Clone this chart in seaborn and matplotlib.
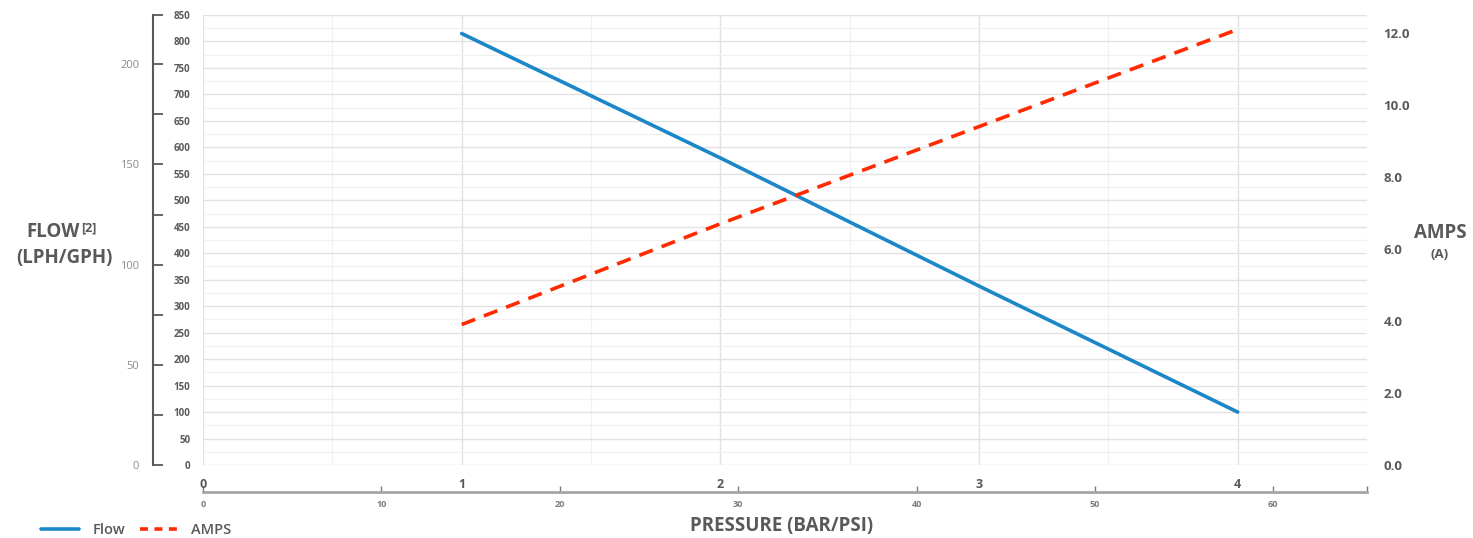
import numpy as np
import pandas as pd
import matplotlib
matplotlib.use("Agg")
import matplotlib.pyplot as plt
import matplotlib.ticker as mticker
from matplotlib.lines import Line2D
import seaborn as sns

# ── Data ───────────────────────────────────────────────────────────────────
pressure_bar = [1, 2, 3, 4]
flow_lph = [815, 580, 338, 100]
amps = [3.9, 6.7, 9.4, 12.1]

gph_ticks = [0, 50, 100, 150, 200]
psi_ticks = [0, 10, 20, 30, 40, 50, 60]

BAR_TO_PSI = 14.5
LPH_TO_GPH = 3.785

# ── Style ──────────────────────────────────────────────────────────────────
sns.set_theme(style="white")
plt.rcParams["font.family"] = ["Open Sans", "DejaVu Sans"]
TEXT = "#595959"
BLUE = "#1b87c9"
RED = "#ff2a00"

df = pd.DataFrame({"bar": pressure_bar, "flow": flow_lph, "amps": amps})

fig = plt.figure(figsize=(14.73, 5.38), dpi=100)
ax = fig.add_axes([203 / 1473, 1 - 465 / 538, 1164 / 1473, 450 / 538])

sns.lineplot(data=df, x="bar", y="flow", ax=ax, color=BLUE, linewidth=2.6,
             legend=False, solid_capstyle="round")
ax.set_xlim(0, 4.5)
ax.set_ylim(0, 850)
ax.set_xlabel("")
ax.set_ylabel("")
for s in ax.spines.values():
    s.set_visible(False)

# grid
ax.xaxis.set_major_locator(mticker.MultipleLocator(1))
ax.xaxis.set_minor_locator(mticker.MultipleLocator(0.5))
ax.yaxis.set_major_locator(mticker.MultipleLocator(50))
ax.yaxis.set_minor_locator(mticker.MultipleLocator(25))
ax.grid(which="major", color="#e2e2e2", linewidth=1.0)
ax.grid(which="minor", color="#f1f1f1", linewidth=0.9)
ax.set_axisbelow(True)
ax.tick_params(axis="both", which="both", length=0)
ax.tick_params(axis="y", pad=9, labelsize=7, labelcolor=TEXT)
ax.tick_params(axis="x", pad=9, labelsize=9, labelcolor=TEXT)
for lbl in ax.get_yticklabels() + ax.get_xticklabels():
    lbl.set_fontweight("bold")

# right AMPS axis
ax2 = ax.twinx()
sns.lineplot(data=df, x="bar", y="amps", ax=ax2, color=RED, linewidth=2.6,
             linestyle=(0, (4, 2.6)), legend=False)
ax2.set_ylim(0, 12.5)
ax2.set_ylabel("")
ax2.yaxis.set_major_locator(mticker.MultipleLocator(2))
ax2.yaxis.set_major_formatter(mticker.FormatStrFormatter("%.1f"))
ax2.tick_params(axis="y", length=0, pad=12, labelsize=9.5, labelcolor=TEXT)
for lbl in ax2.get_yticklabels():
    lbl.set_fontweight("bold")
for s in ax2.spines.values():
    s.set_visible(False)
ax2.grid(False)

# GPH secondary axis (left, offset)
gph = ax.secondary_yaxis(-50 / 1164, functions=(lambda v: v / LPH_TO_GPH,
                                                lambda v: v * LPH_TO_GPH))
gph.yaxis.set_major_locator(mticker.FixedLocator(gph_ticks))
gph.yaxis.set_minor_locator(mticker.FixedLocator(
    [t + 25 for t in gph_ticks[:-1]] + [850 / LPH_TO_GPH]))
gph.tick_params(axis="y", which="both", direction="in", length=7, width=1.3,
                color=TEXT, pad=10, labelsize=8, labelcolor="#8a8a8a")
gph.spines["left"].set_color(TEXT)
gph.spines["left"].set_linewidth(1.5)

# PSI secondary axis (bottom, offset)
psi = ax.secondary_xaxis(-27 / 450, functions=(lambda v: v * BAR_TO_PSI,
                                               lambda v: v / BAR_TO_PSI))
psi.xaxis.set_major_locator(mticker.FixedLocator(psi_ticks))
psi.xaxis.set_minor_locator(mticker.FixedLocator([4.5 * BAR_TO_PSI]))
psi.tick_params(axis="x", which="both", direction="in", length=4, width=1,
                color="#7a7a7a", pad=6, labelsize=6.5, labelcolor="#7a7a7a")
for lbl in psi.get_xticklabels():
    lbl.set_fontweight("bold")
psi.spines["bottom"].set_color("#a6a6a6")
psi.spines["bottom"].set_linewidth(2)

# ── Labels ─────────────────────────────────────────────────────────────────
fig.text(80 / 1473, 1 - 232 / 538, "FLOW", ha="right", va="center",
         fontsize=13.5, fontweight="bold", color=TEXT)
fig.text(81 / 1473, 1 - 228 / 538, "[2]", ha="left", va="center",
         fontsize=9, fontweight="bold", color=TEXT)
fig.text(64 / 1473, 1 - 258 / 538, "(LPH/GPH)", ha="center", va="center",
         fontsize=13.5, fontweight="bold", color=TEXT)
fig.text(1440 / 1473, 1 - 233 / 538, "AMPS", ha="center", va="center",
         fontsize=13.5, fontweight="bold", color=TEXT)
fig.text(1440 / 1473, 1 - 255 / 538, "(A)", ha="center", va="center",
         fontsize=9.5, fontweight="bold", color=TEXT)
fig.text(782 / 1473, 1 - 526 / 538, "PRESSURE (BAR/PSI)", ha="center",
         va="center", fontsize=13.5, fontweight="bold", color=TEXT)

handles = [Line2D([], [], color=BLUE, linewidth=2.6),
           Line2D([], [], color=RED, linewidth=2.6, linestyle=(0, (2.2, 1.8)))]
fig.legend(handles, ["Flow", "AMPS"], loc="center left",
           bbox_to_anchor=(28 / 1473, 1 - 530 / 538), ncol=2, frameon=False,
           prop={"size": 10.5, "weight": "semibold"}, handlelength=2.6,
           handletextpad=0.9, columnspacing=1.0, labelcolor=TEXT)

fig.savefig("out.png", dpi=100)
